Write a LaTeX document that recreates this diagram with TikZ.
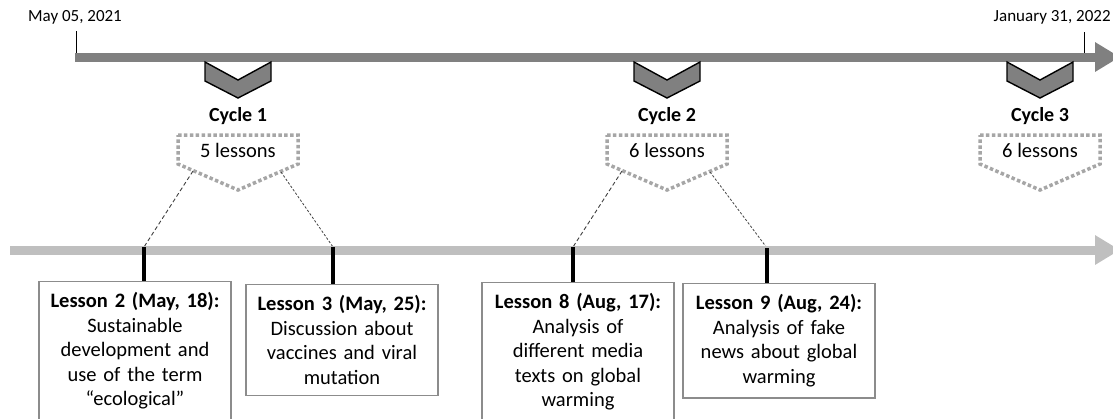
\documentclass[tikz,border=0pt]{standalone}
\usepackage{fontspec}
\setmainfont{Carlito}
\usepackage{xcolor}
\usetikzlibrary{arrows.meta, positioning, calc}
\definecolor{bardark}{HTML}{808080}
\definecolor{barlight}{HTML}{BFBFBF}
\definecolor{dotgray}{HTML}{A6A6A6}
\definecolor{boxgray}{HTML}{8C8C8C}
\tikzset{
  timeline/.style={line width=4.5pt, -{Triangle[length=12.5pt, width=14pt]}},
  chevron/.style={draw=black, fill=bardark, line width=0.7pt},
  cyclelabel/.style={font=\bfseries},
  cyclebox/.style={draw=dotgray, line width=1.75pt, dash pattern=on 1.75pt off 1.2pt},
  lessonbox/.style={draw=boxgray, line width=0.7pt, align=center, text width=90pt, inner xsep=3pt, inner ysep=5.5pt, anchor=north},
  datetick/.style={line width=0.5pt},
  lessontick/.style={line width=1.7pt},
  guide/.style={draw=black!75, line width=0.45pt, dash pattern=on 2pt off 1.3pt},
  fineguide/.style={draw=black!75, line width=0.4pt, dash pattern=on 1.2pt off 0.9pt}
}
\newcommand{\cyclemark}[4]{%
  \begin{scope}[shift={(#1,0)}]
    \draw[chevron] (-33,62) -- (0,80) -- (33,62) -- (33,81) -- (0,98) -- (-33,81) -- cycle;
    \node[cyclelabel] (#2-t) at (0,116) {#3};
    \draw[cyclebox] (-60,135) -- (60,135) -- (60,164) -- (0,190) -- (-60,164) -- cycle;
    \node (#2-n) at (0,150) {#4};
    \coordinate (#2-l) at (-45,171);
    \coordinate (#2-r) at (43,172);
  \end{scope}
}

\begin{document}
\begin{tikzpicture}[x=0.5pt, y=-0.5pt, font=\fontsize{10.25}{12.25}\selectfont]
        \useasboundingbox (0,0) rectangle (1113,418);

        % Dates
        \node[font=\fontsize{8.5}{10}\selectfont] (start) at (75,17) {May 05, 2021};
        \node[font=\fontsize{8.5}{10}\selectfont, anchor=east, inner xsep=1pt] (end) at (1113,17) {January 31, 2022};
        \coordinate (s0) at (76,54);
        \coordinate (e0) at (1084,53);
        \draw[datetick] (s0 |- 0,31) -- (s0);
        \draw[datetick] (e0 |- 0,32) -- (e0);

        % Main timeline
        \coordinate (top0) at (75,57);
        \coordinate (top1) at (1120,57);
        \draw[timeline, bardark] (top0) -- (top1);

        % Cycles
        \cyclemark{238}{c1}{Cycle 1}{5 lessons}
        \cyclemark{667}{c2}{Cycle 2}{6 lessons}
        \cyclemark{1040}{c3}{Cycle 3}{6 lessons}

        % Lesson ticks
        \coordinate (t2) at (144,247);
        \coordinate (t3) at (333,247);
        \coordinate (t8) at (573,247);
        \coordinate (t9) at (767,248);

        \draw[guide] (c1-l) -- (t2);
        \draw[fineguide] (c1-r) -- (t3);
        \draw[guide] (c2-l) -- (t8);
        \draw[fineguide] (c2-r) -- (t9);

        % Lesson timeline
        \coordinate (low0) at (10,250);
        \coordinate (low1) at (1120,250);
        \draw[timeline, barlight] (low0) -- (low1);

        % Lessons
        \node[lessonbox] (l2) at (135,281) {\textbf{Lesson 2 (May, 18):}\\Sustainable\\development and\\use of the term\\“ecological”};
        \node[lessonbox] (l3) at (342,284) {\textbf{Lesson 3 (May, 25):}\\Discussion about\\vaccines and viral\\mutation};
        \node[lessonbox] (l8) at (578,282) {\textbf{Lesson 8 (Aug, 17):}\\Analysis of\\different media\\texts on global\\warming};
        \node[lessonbox] (l9) at (779,283) {\textbf{Lesson 9 (Aug, 24):}\\Analysis of fake\\news about global\\warming};

        \draw[lessontick] (t2) -- (t2 |- l2.north);
        \draw[lessontick] (t3) -- (t3 |- l3.north);
        \draw[lessontick] (t8) -- (t8 |- l8.north);
        \draw[lessontick] (t9) -- (t9 |- l9.north);
    \end{tikzpicture}
\end{document}
